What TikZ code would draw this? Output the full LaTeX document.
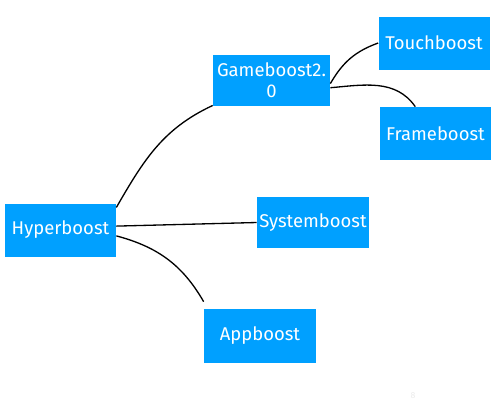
\documentclass[tikz,border=0pt]{standalone}
\usepackage{fontspec}
\setmainfont{Fira Sans}
\usetikzlibrary{positioning}
\definecolor{boxblue}{RGB}{0,160,255}
\begin{document}
\begin{tikzpicture}[
        box/.style={rectangle, fill=boxblue, text=white, minimum width=2.22cm, minimum height=1.06cm, inner sep=1pt, font=\fontsize{10.5}{12}\selectfont},
        link/.style={draw, line width=0.75pt}
    ]
        \useasboundingbox (0,0) rectangle (10,-8.16);

        \node[box] (hyper) at (1.21, -4.6) {Hyperboost};
        \node[box, minimum width=2.34cm, minimum height=1.02cm, align=center] (game) at (5.43, -1.61) {Gameboost2.\\0};
        \node[box] (touch) at (8.68, -0.86) {Touchboost};
        \node[box] (frame) at (8.71, -2.67) {Frameboost};
        \node[box, minimum width=2.24cm, minimum height=1.02cm] (system) at (6.26, -4.45) {Systemboost};
        \node[box, minimum width=2.24cm, minimum height=1.08cm] (app) at (5.2, -6.72) {Appboost};

        % free end above Appboost
        \coordinate[above=0.14cm of app.north west] (apptip);

        \draw[link] (hyper.22) to[out=60, in=205] (game.203);
        \draw[link] (hyper.4) -- (system.west);
        \draw[link] (hyper.354) to[out=-15, in=120] (apptip);

        \draw[link] (game.357) to[out=60, in=200] (touch.west);
        \draw[link] (game.353) to[out=5, in=125] (frame.127);

        \node[font=\tiny, black!8] (pagenum) at (8.26, -7.92) {8};
    \end{tikzpicture}
\end{document}
